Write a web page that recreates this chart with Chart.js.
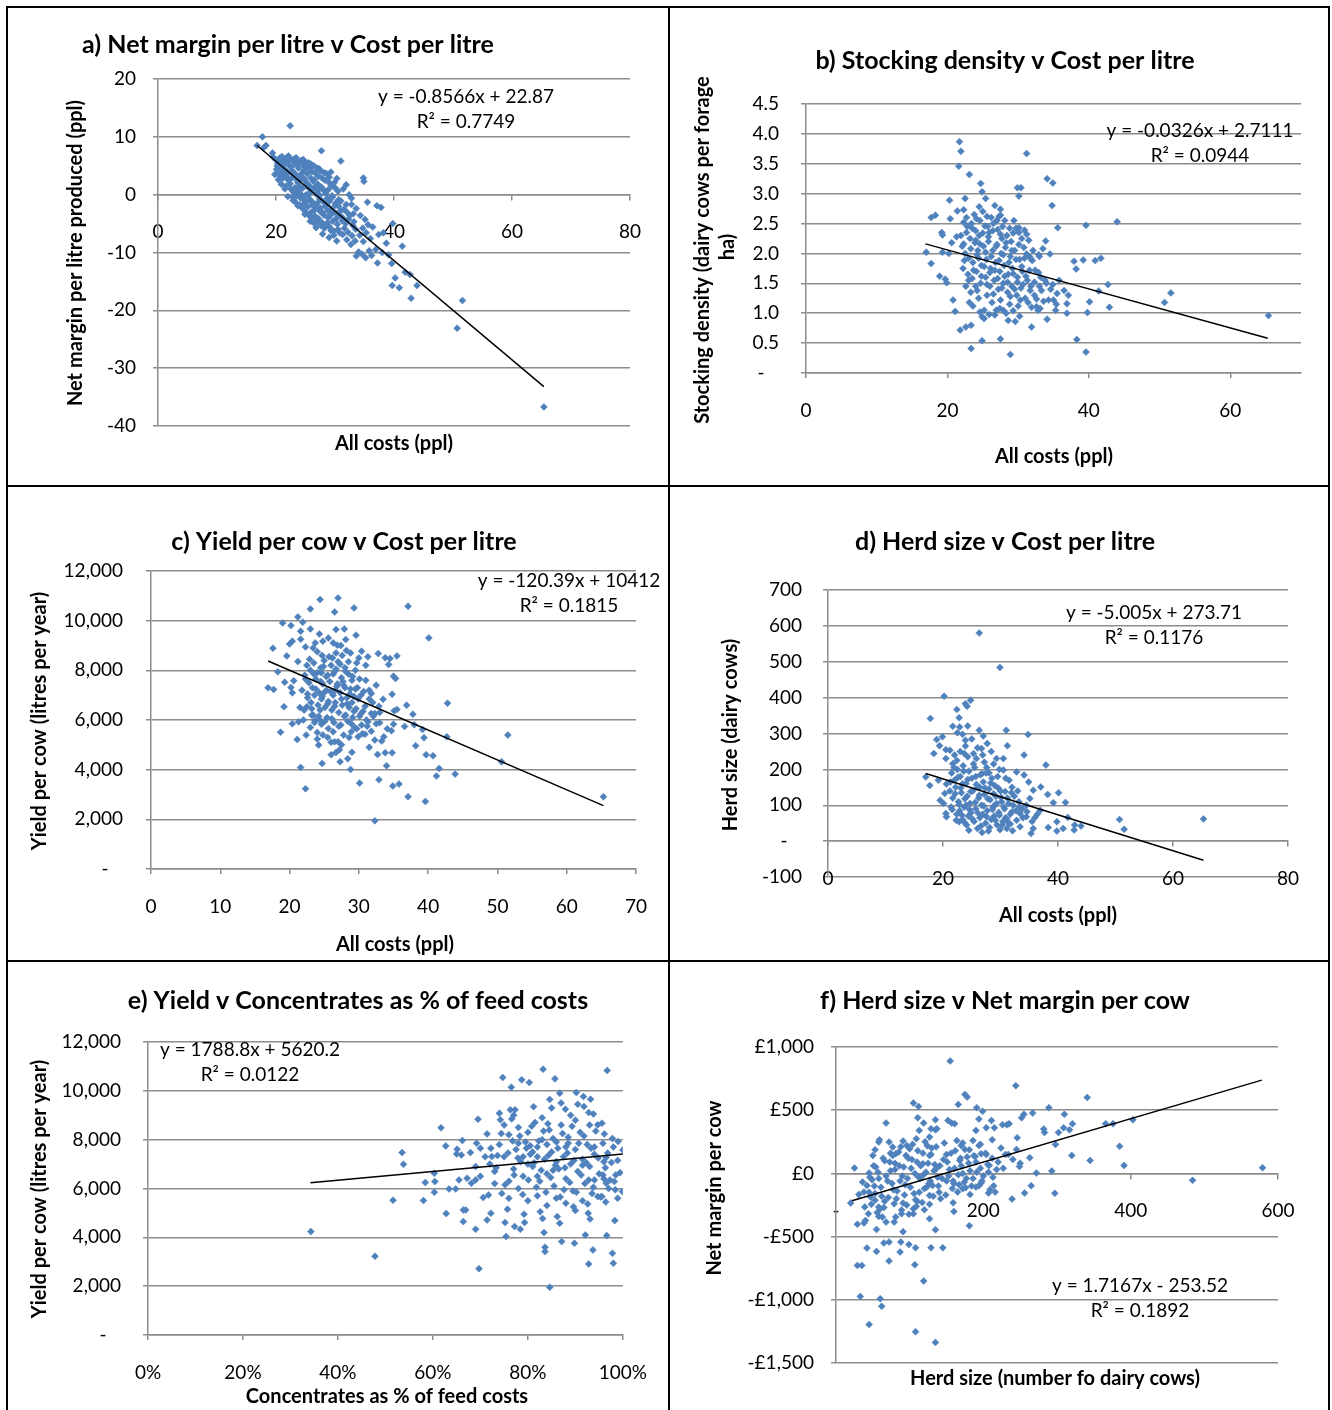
<!DOCTYPE html>
<html>
<head>
<meta charset="utf-8">
<script src="https://cdn.jsdelivr.net/npm/chart.js@4.4.1/dist/chart.umd.min.js"></script>
<style>
  body { margin: 0; background: #fff; }
  #page { position: relative; width: 1332px; height: 1410px; overflow: hidden; }
  #page canvas { position: absolute; }
  .rule { position: absolute; background: #000; }
</style>
</head>
<body>
<div id="page">
  <div class="rule" style="left:6px;top:6px;width:1324px;height:2px"></div>
  <div class="rule" style="left:6px;top:6px;width:2px;height:1404px"></div>
  <div class="rule" style="left:1328px;top:6px;width:2px;height:1404px"></div>
  <div class="rule" style="left:668px;top:6px;width:2px;height:1404px"></div>
  <div class="rule" style="left:6px;top:485px;width:1324px;height:2px"></div>
  <div class="rule" style="left:6px;top:960px;width:1324px;height:2px"></div>
  <canvas id="chartA"></canvas>
  <canvas id="chartB"></canvas>
  <canvas id="chartC"></canvas>
  <canvas id="chartD"></canvas>
  <canvas id="chartE"></canvas>
  <canvas id="chartF"></canvas>
</div>
<script>
    // a) net margin (ppl) against all costs (ppl)
    const marginVsCost = [
        [22.4,11.9],[17.7,10.0],[16.8,8.5],[18.3,8.5],[17.9,8.1],[19.4,7.2],[27.7,7.6],[31.0,5.8],[34.8,2.9],[34.9,2.3],
        [31.9,1.7],[32.4,0],[35.5,-1.3],[32.8,-1.7],[37.1,-1.9],[37.8,-2.2],[39.8,-5.0],[35.6,-5.2],[38.2,-6.6],[41.4,-8.9],
        [37.2,-11.8],[39.6,-11.9],[40.2,-14.4],[41.9,-13.4],[42.7,-13.8],[39.7,-15.7],[40.9,-16.1],[43.9,-15.7],[42.9,-17.9],
        [51.6,-18.3],[50.7,-23.1],[65.4,-36.7],
        [33.6,-10.6],[34.6,-10.3],[35.2,-10.9],[35.8,-9.7],[36.9,-9.5],[38.0,-10.0],[39.1,-10.4],[36.2,-10.5],[34.0,-9.9],
        [19.5,6.5],[20.0,6.0],[20.3,5.4],[20.8,5.8],[21.2,5.1],[21.5,6.0],[21.9,5.6],[22.3,6.2],[22.8,5.9],[23.1,6.0],
        [23.6,5.5],[24.2,5.9],[24.5,5.2],[25.0,4.8],[25.6,4.6],[26.1,4.0],[26.7,3.7],[27.2,3.2],[27.8,2.9],[28.3,2.5],
        [28.9,2.2],[29.4,1.6],[30.0,1.2],[30.5,0.6],
        [20.1,4.4],[20.4,2.6],[20.7,3.1],[21.0,4.0],[21.4,3.6],[21.8,3.0],[22.1,2.5],[22.6,4.1],[22.9,3.4],[23.3,2.8],
        [23.7,2.1],[24.0,1.5],[24.3,3.6],[24.8,2.7],[25.2,1.9],[25.5,1.2],[25.9,0.5],[26.3,2.3],[26.7,1.4],[27.1,0.7],
        [27.4,-0.1],[27.9,1.0],[28.4,0.2],[28.7,-0.6],[29.1,-1.1],[29.6,-0.4],[30.1,-1.5],[30.6,-2.0],[31.0,-1.1],[31.5,-2.5],
        [32.0,-3.0],[22.5,1.0],[23.0,0.4],[23.4,-0.3],[23.8,0.9],[24.2,0.1],[24.6,-0.7],[25.0,-1.3],[25.4,-0.2],[25.8,-1.0],
        [26.2,-1.8],[26.6,-2.6],[27.0,-1.5],[27.5,-2.3],[27.9,-3.1],[28.3,-2.0],[28.8,-2.8],[29.2,-3.6],[29.7,-3.0],[30.2,-4.1],
        [30.7,-3.5],[31.2,-4.5],[31.8,-5.0],[32.3,-4.2],[33.0,-5.3],[33.5,-6.0],[34.2,-7.0],[34.8,-8.1],[35.3,-6.6],[36.0,-7.6],
        [24.0,-1.8],[24.5,-2.4],[25.0,-3.0],[25.6,-3.6],[26.1,-4.2],[26.5,-5.0],[27.0,-4.6],[27.6,-5.3],[28.2,-5.8],[28.7,-4.9],
        [29.3,-6.2],[29.8,-7.0],[30.5,-6.0],[31.3,-6.9],[32.0,-7.8],[32.7,-8.6],[33.4,-8.0],
        [21.7,1.5],[22.0,-0.3],[22.9,-1.0],[23.5,-1.5],[19.8,3.5],[20.9,1.8],[24.9,5.7],[25.9,5.3],[26.9,4.6],[27.6,4.1],
        [28.6,3.6],[29.3,3.9],[30.3,2.8],[31.4,1.0],[32.8,-0.6],[33.6,-2.4],[34.3,-3.6],[35.1,-4.3],[36.4,-5.6],[37.4,-6.9],
        [38.7,-8.4],[33.1,-3.3],[34.7,-5.8],
        [20.2,5.0],[20.6,6.3],[20.9,4.6],[21.1,2.8],[21.3,5.5],[21.6,4.3],[21.8,6.4],[22.0,3.7],[22.2,5.1],[22.4,1.9],
        [22.6,4.8],[22.7,2.9],[22.9,6.1],[23.0,3.9],[23.2,1.2],[23.3,5.3],[23.5,3.3],[23.6,0.4],[23.8,4.6],[23.9,2.4],
        [24.1,5.6],[24.2,-0.6],[24.4,3.0],[24.5,1.1],[24.7,4.2],[24.8,-1.5],[25.0,2.3],[25.1,0.0],[25.3,3.6],[25.4,-2.1],
        [25.6,1.6],[25.7,-0.8],[25.9,2.9],[26.0,-3.0],[26.2,0.9],[26.3,-1.4],[26.5,2.6],[26.6,-3.7],[26.8,0.1],[26.9,-2.2],
        [27.1,1.8],[27.2,-4.1],[27.4,-0.7],[27.5,-2.9],[27.7,1.3],[27.8,-4.8],[28.0,-1.2],[28.1,-3.5],[28.3,0.6],[28.5,-5.3],
        [28.6,-1.8],[28.8,-4.0],[28.9,0.9],[29.1,-5.6],[29.3,-2.5],[29.5,-0.2],[29.6,-4.6],[29.8,-6.3],[30.0,-1.9],[30.2,-3.2],
        [30.4,-5.1],[30.6,-0.9],[30.8,-6.6],[31.0,-2.8],[31.3,-4.0],[31.6,-5.8],[31.9,-1.7],[32.2,-6.5],[32.5,-3.6],[32.9,-7.1],
        [33.2,-4.7],[21.0,6.6],[22.1,6.7],[23.4,6.4],[24.6,6.1],[25.5,5.5],[26.4,5.0],[27.3,4.5],[28.2,3.8],[29.0,3.0],
        [29.9,2.1],[20.5,3.6],[21.5,1.0],[22.8,-0.4],[23.7,-1.9],[24.9,-3.4],[25.8,-4.6],[26.8,-5.7],[27.9,-6.8],[29.0,-7.4],
        [30.3,-8.0]
    ];
    const trendA = [[16.8, 8.5], [65.4, -33.2]];

    // b) stocking density (cows per forage ha) against all costs
    const densityVsCost = [
        [21.7,3.87],[21.9,3.71],[21.6,3.46],[23.1,3.32],[31.2,3.67],[24.7,3.17],[34.1,3.25],[34.9,3.18],[29.9,3.1],[30.4,3.1],
        [24.9,3.03],[30.1,2.96],[25.4,2.92],[20.3,2.89],[22.5,2.92],[26.7,2.80],[24.5,2.78],[34.8,2.80],[27.5,2.74],[21.4,2.71],
        [22.3,2.73],[27.5,2.64],[17.7,2.6],[18.3,2.64],[20.4,2.58],[44.0,2.53],[39.6,2.47],[35.6,2.43],[30.1,2.43],[30.9,2.39],
        [19.2,2.35],[19.3,2.31],[33.9,2.21],[29.3,2.34],[21.3,2.28],[20.6,2.18],[17.0,2.02],[17.7,1.83],[19.3,2.02],[20.2,2.0],
        [22.3,2.16],[33.5,2.08],[34.5,1.99],[32.9,1.98],[31.2,1.99],[31.8,1.91],[37.9,1.87],[39.2,1.89],[40.9,1.88],[41.7,1.92],
        [38.2,1.74],[18.9,1.62],[19.7,1.57],[19.9,1.51],[42.7,1.48],[41.4,1.37],[51.6,1.34],[50.7,1.18],[40.1,1.19],[42.9,1.10],
        [39.8,1.01],[65.4,0.96],[20.8,1.22],[21.1,1.03],[23.6,1.12],[24.9,0.94],[25.2,0.91],[21.8,0.72],[22.6,0.77],[23.35,0.80],
        [31.9,0.77],[29.6,0.86],[34.1,0.90],[36.9,1.0],[27.5,0.57],[24.9,0.54],[38.3,0.56],[23.35,0.41],[28.9,0.31],[39.6,0.35],
        [35.3,1.05],[37.1,1.30],[36.9,1.16],[26.7,0.97],[27.9,1.05],[29.3,1.04],[32.6,1.11],[33.1,1.08],[35.0,1.22],[35.5,1.33],
        [22.8,2.45],[23.4,2.5],[24.0,2.38],[24.6,2.55],[25.3,2.46],[25.9,2.35],[26.5,2.50],[27.1,2.40],[27.8,2.45],[28.4,2.30],
        [29.0,2.2],[23.2,2.25],[23.9,2.18],[24.5,2.3],[25.1,2.12],[25.8,2.2],[26.4,2.05],[27.0,2.15],[27.6,2.0],[28.2,2.1],
        [28.9,1.95],[29.5,2.05],[30.2,1.9],[22.5,2.0],[23.0,1.92],[23.6,1.85],[24.2,1.98],[24.8,1.8],[25.5,1.9],[26.1,1.75],
        [26.8,1.85],[27.4,1.7],[28.0,1.8],[28.6,1.65],[29.2,1.75],[29.9,1.6],[30.6,1.7],[31.3,1.55],[22.2,1.75],[22.9,1.65],
        [23.5,1.58],[24.1,1.7],[24.7,1.5],[25.4,1.6],[26.0,1.45],[26.6,1.55],[27.2,1.4],[27.9,1.5],[28.5,1.35],[29.1,1.45],
        [29.8,1.3],[30.4,1.42],[31.0,1.25],[31.7,1.38],[32.3,1.3],[33.0,1.45],[33.6,1.2],[22.6,1.45],[23.3,1.35],[24.4,1.25],
        [25.6,1.3],[26.3,1.18],[27.5,1.22],[28.8,1.15],[30.0,1.12],[23.8,2.65],[25.0,2.7],[26.2,2.6],[27.3,2.62],[28.1,2.55],
        [29.7,2.42],[30.8,2.1],[31.6,1.95],[32.4,1.72],[33.2,1.6],[34.0,1.5],[34.6,1.4],[35.8,1.55],[36.5,1.38],[26.9,1.05],
        [28.3,1.0],[25.2,1.05],[24.0,1.45],[31.9,1.1],[32.8,1.05],[21.9,2.3],[22.7,2.6],[24.3,2.05],[25.7,2.45],[27.7,2.25],
        [29.4,2.55],[30.5,2.25],[31.2,2.32],[32.1,2.05],
        [22.1,2.12],[22.4,1.88],[22.7,2.35],[23.0,1.55],[23.3,2.08],[23.5,2.42],[23.7,1.72],[24.0,2.22],[24.2,1.38],[24.4,1.92],
        [24.6,2.16],[24.8,1.62],[25.0,2.34],[25.2,1.78],[25.4,2.02],[25.6,1.48],[25.8,2.28],[26.0,1.68],[26.2,1.95],[26.4,2.38],
        [26.5,1.32],[26.7,1.72],[26.9,2.12],[27.1,1.58],[27.3,1.88],[27.5,2.32],[27.7,1.42],[27.9,1.98],[28.1,1.62],[28.3,2.18],
        [28.5,1.52],[28.7,1.85],[28.9,1.28],[29.1,2.05],[29.3,1.66],[29.5,1.40],[29.7,1.90],[29.9,1.52],[30.1,2.15],[30.3,1.22],
        [30.5,1.78],[30.7,1.48],[30.9,1.92],[31.1,1.62],[31.4,1.18],[31.6,1.72],[31.8,1.45],[32.0,1.88],[32.3,1.52],[32.6,1.24],
        [32.9,1.68],[33.3,1.38],[33.8,1.55],[34.3,1.22],[34.9,1.48],[35.4,1.15],[23.1,1.18],[24.6,1.02],[25.9,0.98],[27.4,1.08],
        [28.6,0.88],[30.2,0.95],[22.3,2.52],[24.1,2.58],[25.6,2.62],[27.0,2.55],[28.8,2.42],[30.1,2.35],[31.5,2.22],[33.0,1.95]
    ];
    const trendB = [[16.9, 2.16], [65.3, 0.58]];

    // c) yield per cow (litres per year) against all costs
    const yieldVsCost = [
        [24.4,10849],[27.0,10916],[23.0,10473],[26.5,10353],[29.3,10513],[37.1,10580],[21.2,10151],[21.9,9937],[19.0,9910],[20.2,9803],
        [21.6,9575],[23.0,9669],[24.3,9467],[26.7,9642],[27.9,9669],[29.6,9414],[40.1,9307],[17.6,8891],[19.6,8582],[20.4,9173],
        [20.0,9065],[21.6,9253],[22.3,8944],[23.7,9105],[24.8,9173],[26.3,9105],[26.9,9012],[28.1,9240],[30.4,8770],[31.3,8542],
        [32.8,8676],[33.8,8502],[34.5,8475],[35.5,8582],[34.3,8234],[16.9,7295],[17.7,7228],[18.3,7939],[19.3,7523],[20.2,7309],
        [20.4,7094],[20.6,7577],[21.2,8354],[19.2,6531],[18.7,5511],[20.4,5847],[21.1,5216],[21.3,5927],[21.6,4090],[22.3,3232],
        [22.4,5391],[24.0,5230],[24.2,4989],[24.7,4251],[26.5,5123],[26.7,4694],[27.3,4318],[28.4,4439],[28.8,4010],[30.1,3460],
        [32.3,1944],[32.7,4613],[32.9,3594],[33.8,4680],[34.0,4157],[34.8,4680],[34.9,3339],[35.8,3420],[37.1,2910],[39.6,2722],
        [38.2,4962],[39.7,4600],[40.7,4559],[41.6,4050],[41.2,3741],[43.9,3822],[42.8,6678],[42.7,5324],[51.5,5391],[50.6,4318],
        [65.3,2910],[36.9,6598],[37.8,6236],[38.0,5807],[39.2,5619],[39.4,5284],[36.6,5740],[35.5,6423],[35.1,6370],[34.8,7040],
        [35.0,7765],[35.3,7671],[33.5,6839],[31.8,7067],[32.3,6262],[33.0,5887],[33.6,5324],[34.7,5565],[35.0,5833],[34.1,5646],
        [32.3,5190],[30.9,5431],[29.9,5324],[28.9,5525],[27.8,5391],[27.0,5123],[26.3,5525],[25.6,5659],[24.6,5833],[23.7,5994],
        [23.2,6195],[22.5,6531],[31.3,5927],[31.8,6262],
        [22.5,8200],[23.0,8000],[23.5,8300],[24.0,7900],[24.5,8100],[25.0,8400],[25.5,7800],[26.0,8200],[26.5,7950],[27.0,8350],
        [27.5,7700],[28.0,8100],[28.5,7850],[29.0,7600],[29.5,8000],[22.8,7500],[23.3,7300],[23.8,7650],[24.3,7100],[24.8,7450],
        [25.3,7200],[25.8,7550],[26.3,7000],[26.8,7350],[27.3,7100],[27.8,7400],[28.3,6900],[28.8,7250],[29.3,6950],[29.8,7300],
        [30.3,7000],[22.6,6900],[23.1,6700],[23.6,7000],[24.1,6600],[24.6,6850],[25.1,6500],[25.6,6750],[26.1,6400],[26.6,6700],
        [27.1,6300],[27.6,6600],[28.1,6200],[28.6,6500],[29.1,6100],[29.6,6450],[30.1,6150],[30.6,6350],[31.1,6000],[23.4,6200],
        [24.4,6000],[25.4,6100],[26.4,5900],[27.4,5800],[28.4,5950],[29.4,5700],[30.4,5800],[22.2,7800],[24.7,8600],[26.7,8700],
        [28.2,8800],[29.7,8300],[31.0,7600],[31.5,7200],[32.0,6700],[32.5,7400],[33.0,6300],[21.8,7200],[21.5,6500],[22.0,6000],
        [23.0,5700],[24.0,5500],[25.5,5300],[27.5,5000],[29.0,4700],[31.5,4900],[26.0,4600],[30.0,8500],[31.0,8200],
        [22.3,7650],[22.6,7050],[22.9,8450],[23.2,6450],[23.5,7850],[23.8,7250],[24.0,8750],[24.2,6150],[24.5,7550],[24.7,6950],
        [24.9,8150],[25.1,5950],[25.3,7750],[25.5,6650],[25.7,8550],[25.9,7150],[26.1,6050],[26.3,7850],[26.5,6550],[26.7,8050],
        [26.9,7450],[27.1,5750],[27.3,8250],[27.5,6850],[27.7,7550],[27.9,6150],[28.1,7950],[28.3,6650],[28.5,8350],[28.7,7050],
        [28.9,5850],[29.1,7750],[29.3,6350],[29.5,7250],[29.7,5650],[29.9,6850],[30.1,7650],[30.3,6250],[30.5,5450],[30.7,7150],
        [30.9,6550],[31.2,5750],[31.5,6850],[31.8,5550],[32.1,6150],[32.5,5850],[32.9,6550],[33.3,5150],[23.6,5900],[24.8,5400],
        [26.0,5100],[27.2,4800],[28.6,5300],[25.6,9300],[27.4,9000],[28.8,8700],[23.4,8900],[22.1,6400],[24.4,6400],[26.6,7200],
        [28.0,7300],[29.0,6700],[25.0,7100],[26.2,8500],[27.6,8600],[24.6,7900]
    ];
    const trendC = [[16.9, 8377], [65.3, 2550]];

    // d) herd size (dairy cows) against all costs
    const herdVsCost = [
        [26.3,580],[29.9,484],[20.2,404],[24.8,393],[23.9,383],[24.2,376],[17.8,342],[22.4,367],[22.8,344],[21.7,320],
        [22.9,318],[24.3,321],[26.3,309],[22.5,302],[23.4,298],[27.0,293],[19.9,291],[18.9,283],[23.9,281],[31.0,309],
        [34.8,297],[19.4,266],[20.5,255],[18.4,244],[21.2,253],[20.5,230],[23.7,244],[25.3,244],[27.7,272],[26.7,258],
        [31.2,266],[34.1,240],[37.9,212],[17.0,179],[17.7,155],[19.2,170],[20.6,159],[19.5,114],[20.1,105],[20.3,133],
        [20.5,77],[20.6,68],[21.7,216],[30.5,198],[32.8,193],[34.1,184],[34.9,165],[37.0,151],[35.7,142],[38.2,130],
        [40.1,135],[39.2,107],[41.3,108],[35.1,119],[36.9,86],[38.3,38],[39.8,28],[40.9,35],[42.8,31],[42.9,45],
        [44.0,42],[41.7,66],[39.8,54],[50.7,60],[51.5,33],[65.3,62],[35.3,21],[32.1,29],[26.8,24],[22.8,54],
        [23.8,51],[31.1,35],[33.4,40],[35.7,35],[36.0,66],[34.5,68],[33.4,77],
        [21.5,190],[22.0,170],[22.5,200],[23.0,180],[23.5,210],[24.0,160],[24.5,195],[25.0,175],[25.5,205],[26.0,150],
        [26.5,185],[27.0,165],[27.5,190],[28.0,145],[28.5,175],[29.0,155],[29.5,180],[30.0,140],[21.2,140],[21.7,120],
        [22.2,150],[22.7,110],[23.2,135],[23.7,95],[24.2,125],[24.7,105],[25.2,140],[25.7,90],[26.2,120],[26.7,100],
        [27.2,130],[27.7,85],[28.2,115],[28.7,95],[29.2,125],[29.7,80],[30.2,110],[30.7,90],[31.2,120],[31.7,75],
        [32.2,100],[32.7,85],[21.4,95],[22.4,75],[23.4,60],[24.4,70],[25.4,55],[26.4,65],[27.4,50],[28.4,60],
        [29.4,45],[30.4,55],[31.4,50],[22.9,85],[24.9,80],[26.9,75],[28.9,70],[30.9,65],[33.2,110],[33.8,90],
        [34.5,100],[25.8,230],[27.2,220],[28.8,215],[24.3,235],[23.0,250],[29.8,200],[26.0,260],[30.5,230],[32.0,150],
        [33.0,140],[31.5,170],
        [21.3,165],[21.6,88],[21.9,205],[22.1,132],[22.3,58],[22.6,178],[22.8,102],[23.1,148],[23.3,72],[23.6,195],
        [23.8,118],[24.1,45],[24.3,172],[24.6,88],[24.8,138],[25.1,62],[25.3,215],[25.6,108],[25.8,158],[26.1,78],
        [26.3,128],[26.6,42],[26.8,188],[27.1,98],[27.3,148],[27.6,68],[27.8,118],[28.1,38],[28.3,162],[28.6,88],
        [28.8,132],[29.1,58],[29.3,105],[29.6,148],[29.8,72],[30.1,122],[30.3,45],[30.6,95],[30.8,138],[31.1,62],
        [31.4,105],[31.7,48],[32.0,82],[32.4,125],[32.8,58],[33.3,95],[33.9,65],[34.6,82],[35.5,55],[36.4,75],
        [22.0,240],[23.9,265],[25.0,285],[26.9,240],[28.4,250],[29.3,230],[24.5,30],[26.0,35],[27.9,28],[29.9,32],
        [22.4,225],[27.6,205],[30.9,175],[23.4,160],[25.7,180],[28.0,190],[24.0,100],[26.4,150],[29.0,100],[31.9,135]
    ];
    const trendD = [[17.0, 188.6], [65.3, -53.1]];

    // e) yield per cow against concentrates as share of feed costs
    const yieldVsConc = [
        [0.343,4235],[0.478,3224],[0.516,5519],[0.535,7472],[0.538,6994],[0.580,5505],[0.584,6243],[0.603,6625],[0.604,6284],[0.603,5846],
        [0.617,8483],[0.627,7745],[0.628,4972],[0.634,5983],[0.648,5983],[0.651,7609],[0.650,7417],[0.660,7376],[0.662,7964],[0.655,6352],
        [0.664,5122],[0.669,5122],[0.664,4644],[0.679,7472],[0.672,6420],[0.681,6215],[0.690,6352],[0.692,7855],[0.700,7650],[0.690,4330],
        [0.695,8838],[0.697,2718],[0.706,5628],[0.714,8237],[0.717,5737],[0.724,7308],[0.714,4713],[0.722,4986],[0.740,9084],[0.742,8811],
        [0.747,10546],[0.765,10149],[0.787,10450],[0.803,10341],[0.763,9221],[0.773,9221],[0.832,10887],[0.857,10491],[0.867,9904],[0.902,9931],
        [0.917,9767],[0.932,9658],[0.967,10832],[0.918,9357],[0.928,9111],[0.947,8606],[0.956,8674],[0.961,8237],[0.990,7923],[1.0,7581],
        [0.985,6557],[0.982,6284],[0.999,5874],[0.989,5601],[0.983,4685],[0.966,4071],[0.978,3347],[0.980,2937],[0.928,2910],[0.937,3483],
        [0.921,4098],[0.898,3757],[0.871,3825],[0.846,1953],[0.836,3593],[0.836,3415],[0.834,4194],[0.831,4767],[0.867,4576],[0.784,4330],
        [0.772,4440],[0.754,4030],[0.752,4603],[0.793,4603],[0.927,4986],[0.926,5368],[0.947,5669],[0.956,5669],[0.940,6352],[0.965,6215],
        [0.958,6557],[0.976,7062],[0.965,7267],
        [0.74,7800],[0.75,7300],[0.76,8200],[0.77,6800],[0.775,7600],[0.78,8500],[0.785,7100],[0.79,6500],[0.795,7900],[0.80,8300],
        [0.805,7400],[0.81,6900],[0.815,8700],[0.82,7700],[0.825,6300],[0.83,8000],[0.835,7200],[0.84,6600],[0.845,8400],[0.85,7500],
        [0.855,6100],[0.86,7900],[0.865,6800],[0.87,8600],[0.875,7300],[0.88,6400],[0.885,8100],[0.89,7000],[0.895,5900],[0.90,7600],
        [0.905,6700],[0.91,8300],[0.915,7200],[0.92,6200],[0.925,7800],[0.93,6900],[0.935,5800],[0.94,7400],[0.95,6600],[0.96,7100],
        [0.97,6000],[0.98,7700],[0.73,6200],[0.745,5800],[0.76,5600],[0.78,6000],[0.80,5500],[0.82,5700],[0.84,5300],[0.86,5600],
        [0.88,5400],[0.90,5100],[0.915,5500],[0.78,7850],[0.80,7000],[0.82,6500],[0.84,7800],[0.86,7100],[0.88,7700],[0.83,8900],
        [0.85,9300],[0.87,9500],[0.89,9000],[0.90,8800],[0.93,8600],[0.94,7700],[0.96,6400],[0.75,8600],[0.77,9000],[0.72,7000],
        [0.73,6700],[0.71,7300],[0.69,6900],[0.70,6500],[0.76,6300],[0.79,7300],[0.81,7500],[0.82,7300],
        [0.722,7650],[0.733,6850],[0.744,8250],[0.752,6150],[0.758,7450],[0.766,8850],[0.771,6550],[0.779,7250],[0.783,8150],[0.789,5750],
        [0.797,7650],[0.801,6350],[0.808,8550],[0.813,7050],[0.818,6050],[0.823,7950],[0.828,6750],[0.833,8350],[0.838,5850],[0.843,7350],
        [0.848,6450],[0.853,8050],[0.858,6950],[0.863,7650],[0.868,5650],[0.873,8250],[0.878,6850],[0.883,7450],[0.888,6250],[0.893,8550],
        [0.897,7150],[0.902,5850],[0.907,7850],[0.912,6550],[0.918,8150],[0.923,7050],[0.928,6350],[0.933,7650],[0.938,6050],[0.943,8350],
        [0.948,7250],[0.953,5650],[0.958,7850],[0.963,6850],[0.968,7450],[0.973,6350],[0.978,8050],[0.984,5950],[0.989,7150],[0.994,6650],
        [0.757,5150],[0.792,4950],[0.826,5050],[0.862,4850],[0.896,5250],[0.931,4750],[0.964,5450],[0.812,9350],[0.846,9650],[0.879,9250],
        [0.905,9450],[0.938,9050],[0.736,7350],[0.768,7950],[0.853,6750],[0.885,7850],[0.915,6950],[0.805,7750],[0.842,8650],[0.876,5950]
    ];
    const trendE = [[0.342, 6232], [1.0, 7409]];

    // f) net margin per cow (£) against herd size
    const marginVsHerd = [
        [155,889],[244,694],[341,601],[175,625],[178,604],[166,546],[105,556],[112,530],[191,520],[199,491],
        [289,520],[310,467],[267,477],[255,467],[252,440],[111,440],[68,398],[119,398],[135,425],[129,353],
        [113,340],[137,353],[152,419],[157,398],[161,393],[194,430],[211,419],[215,361],[204,361],[226,385],
        [232,385],[235,393],[321,393],[309,361],[317,345],[302,324],[282,351],[283,324],[366,393],[376,393],
        [403,425],[385,214],[391,63],[579,45],[484,-55],[345,103],[320,142],[298,229],[293,18],[297,-158],
        [272,3],[265,-98],[256,-156],[263,124],[249,55],[246,282],[239,-203],[212,266],[190,340],[172,240],
        [168,103],[181,187],[189,134],[197,156],[204,150],[208,63],[214,-98],[216,-148],[209,-129],[207,-156],
        [197,-76],[194,-98],[190,-108],[182,-166],[176,-113],[172,-121],[165,-148],[159,-232],[160,-301],[181,-414],
        [145,-588],[129,-588],[135,-446],[119,-852],[107,-723],[108,-588],[99,-562],[88,-543],[87,-622],[72,-543],
        [65,-551],[91,-461],[72,-693],[55,-617],[42,-591],[55,-443],[29,-728],[35,-728],[29,-403],[33,-973],
        [60,-992],[62,-1052],[45,-1195],[108,-1253],[135,-1337],[20,-235],[25,42],[36,-69],[45,3],[49,-50],
        [54,50],[50,142],[53,187],[58,248],[59,266],[72,248],[77,208],[81,156],[77,142],[91,256],
        [95,142],[100,195],[109,274],[127,287],[135,345],[124,219],[127,142],[118,76],[136,37],[112,-29],
        [131,-95],[127,-174],[127,-245],[120,-287],[127,-359],[109,-261],[108,-208],[105,-319],[99,-324],[89,-319],
        [91,-235],[81,-345],[79,-385],[68,-385],[63,-345],[58,-340],[58,-266],[53,-213],[47,-187],[39,-266],
        [40,-372],[38,-393],[44,-319],[31,-166],[38,-148],
        [45,-150],[52,-100],[58,-40],[62,-180],[66,-220],[70,-60],[74,20],[78,-130],[82,-200],[86,60],
        [90,-20],[94,-90],[98,120],[102,40],[106,-160],[110,90],[114,-40],[118,160],[122,10],[126,-80],
        [130,200],[134,70],[138,-30],[142,-200],[146,110],[150,-60],[154,30],[158,-120],[162,180],[166,-10],
        [170,60],[174,-70],[178,130],[182,20],[186,-40],[190,90],[196,40],[200,-20],[206,70],[212,120],
        [218,30],[224,200],[230,150],[240,110],[250,80],[66,100],[80,80],[96,-250],[110,-220],[120,-120],
        [140,-150],[160,-80],[74,160],[88,210],[104,230],[60,-280],[150,150],[170,220],[186,260],[196,230],
        [42,-95],[46,-30],[48,-245],[51,60],[53,-160],[56,-310],[57,10],[61,-110],[64,120],[65,-270],
        [68,-20],[71,-190],[73,90],[76,-80],[79,-240],[80,30],[83,-140],[85,170],[87,-60],[89,-290],
        [92,50],[93,-170],[96,220],[97,-40],[101,-110],[103,110],[105,-280],[107,0],[111,180],[113,-150],
        [115,60],[117,-230],[119,-10],[121,250],[123,-110],[125,80],[128,-60],[129,150],[132,-180],[133,20],
        [136,210],[139,-100],[141,60],[144,-40],[147,240],[149,-170],[151,90],[153,-20],[156,160],[159,-60],
        [161,40],[164,260],[167,-90],[169,120],[172,0],[175,190],[177,-40],[180,80],[184,-100],[187,140],
        [191,10],[194,220],[198,-60],[203,160],[207,10],[213,-30],[220,90],[227,40],[234,150],[245,190]
    ];
    const trendF = [[21.7, -216], [578, 738]];

    const equations = {
        A: ['y = -0.8566x + 22.87', 'R² = 0.7749'],
        B: ['y = -0.0326x + 2.7111', 'R² = 0.0944'],
        C: ['y = -120.39x + 10412', 'R² = 0.1815'],
        D: ['y = -5.005x + 273.71', 'R² = 0.1176'],
        E: ['y = 1788.8x + 5620.2', 'R² = 0.0122'],
        F: ['y = 1.7167x - 253.52', 'R² = 0.1892']
    };

    const GRID = '#8c8c8c';
    const BLUE = '#4f81bd';
    const FONT = 'Lato';
    Chart.defaults.font.family = FONT;
    Chart.defaults.color = '#000';

    const dash = '-\u2002 ';
    const withCommas = n => String(n).replace(/\B(?=(\d{3})+(?!\d))/g, ',');

    // text that Excel places freely on the chart: titles, axis titles, trendline labels
    const freeText = {
        id: 'freeText',
        afterDraw(chart, args, opts) {
            const ctx = chart.ctx;
            opts.items.forEach(it => {
                ctx.save();
                ctx.font = (it.bold ? 'bold ' : '') + it.size + 'px ' + FONT;
                ctx.fillStyle = '#000';
                ctx.textAlign = 'center';
                ctx.textBaseline = 'middle';
                ctx.translate(it.x - opts.cell[0], it.y - opts.cell[1]);
                if (it.rot) ctx.rotate(-Math.PI / 2);
                ctx.fillText(it.t, 0, 0);
                ctx.restore();
            });
        }
    };

    function scatterPanel(id, cell, area, o) {
        const cv = document.getElementById(id);
        cv.width = cell[2];
        cv.height = cell[3];
        cv.style.left = cell[0] + 'px';
        cv.style.top = cell[1] + 'px';
        const yW = 100, xH = 50;
        const padding = {
            left: area[0] - cell[0] - yW,
            top: area[1] - cell[1],
            right: cell[0] + cell[2] - area[2],
            bottom: cell[1] + cell[3] - area[3] - (o.xCross ? 0 : xH)
        };
        const xScale = {
            type: 'linear', min: o.x.min, max: o.x.max,
            position: o.xCross ? { y: 0 } : 'bottom',
            ticks: { stepSize: o.x.step, padding: 21, font: { size: 19 }, maxRotation: 0, autoSkip: false, callback: o.x.fmt },
            grid: { drawOnChartArea: false, drawTicks: true, tickLength: 5, color: GRID, lineWidth: 1.5 },
            border: { color: GRID, width: 1.5 },
            afterFit: s => { if (!o.xCross) s.height = xH; }
        };
        if (o.x.ticks) xScale.afterBuildTicks = s => { s.ticks = o.x.ticks.map(v => ({ value: v })); };
        const yScale = {
            type: 'linear', min: o.y.min, max: o.y.max,
            ticks: { stepSize: o.y.step, padding: o.y.pad, font: { size: 19 }, callback: o.y.fmt },
            grid: { color: GRID, lineWidth: 1.5, drawTicks: true, tickLength: 5 },
            border: { color: GRID, width: 1.5 },
            afterFit: s => { s.width = yW; }
        };
        return new Chart(cv, {
            type: 'scatter',
            data: {
                datasets: [
                    {
                        data: o.trend.map(p => ({ x: p[0], y: p[1] })),
                        showLine: true, borderColor: '#000', borderWidth: 1.5, pointRadius: 0
                    },
                    {
                        data: o.points.map(p => ({ x: p[0], y: p[1] })),
                        pointStyle: 'rectRot', pointRadius: 3.5,
                        backgroundColor: BLUE, borderColor: BLUE, borderWidth: 0.5
                    }
                ]
            },
            options: {
                responsive: false, animation: false, events: [], devicePixelRatio: 1,
                layout: { padding: padding },
                scales: { x: xScale, y: yScale },
                plugins: {
                    legend: { display: false }, tooltip: { enabled: false },
                    freeText: { cell: cell, items: o.text }
                }
            },
            plugins: [freeText]
        });
    }

    function labelItems(title, eq, axisX, axisY) {
        return [
            { t: title[0], x: title[1], y: title[2], size: 25, bold: true },
            { t: eq[0][0], x: eq[1], y: eq[2], size: 19 },
            { t: eq[0][1], x: eq[1], y: eq[2] + 25, size: 19 },
            { t: axisX[0], x: axisX[1], y: axisX[2], size: 20, bold: true }
        ].concat(axisY.map(a => ({ t: a[0], x: a[1], y: a[2], size: 20, bold: true, rot: true })));
    }

    scatterPanel('chartA', [8, 8, 660, 477], [158, 79, 630, 426], {
        points: marginVsCost, trend: trendA, xCross: true,
        x: { min: 0, max: 80, step: 20 },
        y: { min: -40, max: 20, step: 10, pad: 17 },
        text: labelItems(['a) Net margin per litre v Cost per litre', 288, 45], [equations.A, 466, 97],
            ['All costs (ppl)', 394, 444], [['Net margin per litre produced (ppl)', 76, 253]])
    });

    scatterPanel('chartB', [670, 8, 658, 477], [806, 104, 1301, 373], {
        points: densityVsCost, trend: trendB,
        x: { min: 0, max: 70, step: 20, ticks: [0, 20, 40, 60] },
        y: { min: 0, max: 4.5, step: 0.5, pad: 22, fmt: v => v === 0 ? dash : v.toFixed(1) },
        text: labelItems(['b) Stocking density v Cost per litre', 1005, 61], [equations.B, 1200, 131],
            ['All costs (ppl)', 1054, 457],
            [['Stocking density (dairy cows per forage', 703, 250], ['ha)', 728, 247]])
    });

    scatterPanel('chartC', [8, 487, 660, 473], [151, 571, 640, 869], {
        points: yieldVsCost, trend: trendC,
        x: { min: 0, max: 70, step: 10 },
        y: { min: 0, max: 12000, step: 2000, pad: 23, fmt: v => v === 0 ? dash : withCommas(v) },
        text: labelItems(['c) Yield per cow v Cost per litre', 344, 542], [equations.C, 569, 581],
            ['All costs (ppl)', 395, 945], [['Yield per cow (litres per year)', 40, 721]])
    });

    scatterPanel('chartD', [670, 487, 658, 473], [828, 590, 1288, 877], {
        points: herdVsCost, trend: trendD, xCross: true,
        x: { min: 0, max: 80, step: 20 },
        y: { min: -100, max: 700, step: 100, pad: 21, fmt: v => v === 0 ? dash : v },
        text: labelItems(['d) Herd size v Cost per litre', 1005, 542], [equations.D, 1154, 613],
            ['All costs (ppl)', 1058, 916], [['Herd size (dairy cows)', 731, 735]])
    });

    scatterPanel('chartE', [8, 962, 660, 448], [148, 1042, 627, 1335], {
        points: yieldVsConc, trend: trendE,
        x: { min: 0, max: 1, step: 0.2, fmt: v => Math.round(v * 100) + '%' },
        y: { min: 0, max: 12000, step: 2000, pad: 22, fmt: v => v === 0 ? dash : withCommas(v) },
        text: labelItems(['e) Yield v Concentrates as % of feed costs', 358, 1001], [equations.E, 250, 1050],
            ['Concentrates as % of feed costs', 387, 1397], [['Yield per cow (litres per year)', 40, 1189]])
    });

    scatterPanel('chartF', [670, 962, 658, 448], [836, 1047, 1278, 1363], {
        points: marginVsHerd, trend: trendF, xCross: true,
        x: { min: 0, max: 600, step: 200, fmt: v => v === 0 ? '-' : v },
        y: { min: -1500, max: 1000, step: 500, pad: 17,
             fmt: v => v === 0 ? '£0' : (v < 0 ? '-' : '') + '£' + withCommas(Math.abs(v)) },
        text: labelItems(['f) Herd size v Net margin per cow', 1005, 1001], [equations.F, 1140, 1286],
            ['Herd size (number fo dairy cows)', 1055, 1379], [['Net margin per cow', 715, 1188]])
    });
</script>
</body>
</html>
